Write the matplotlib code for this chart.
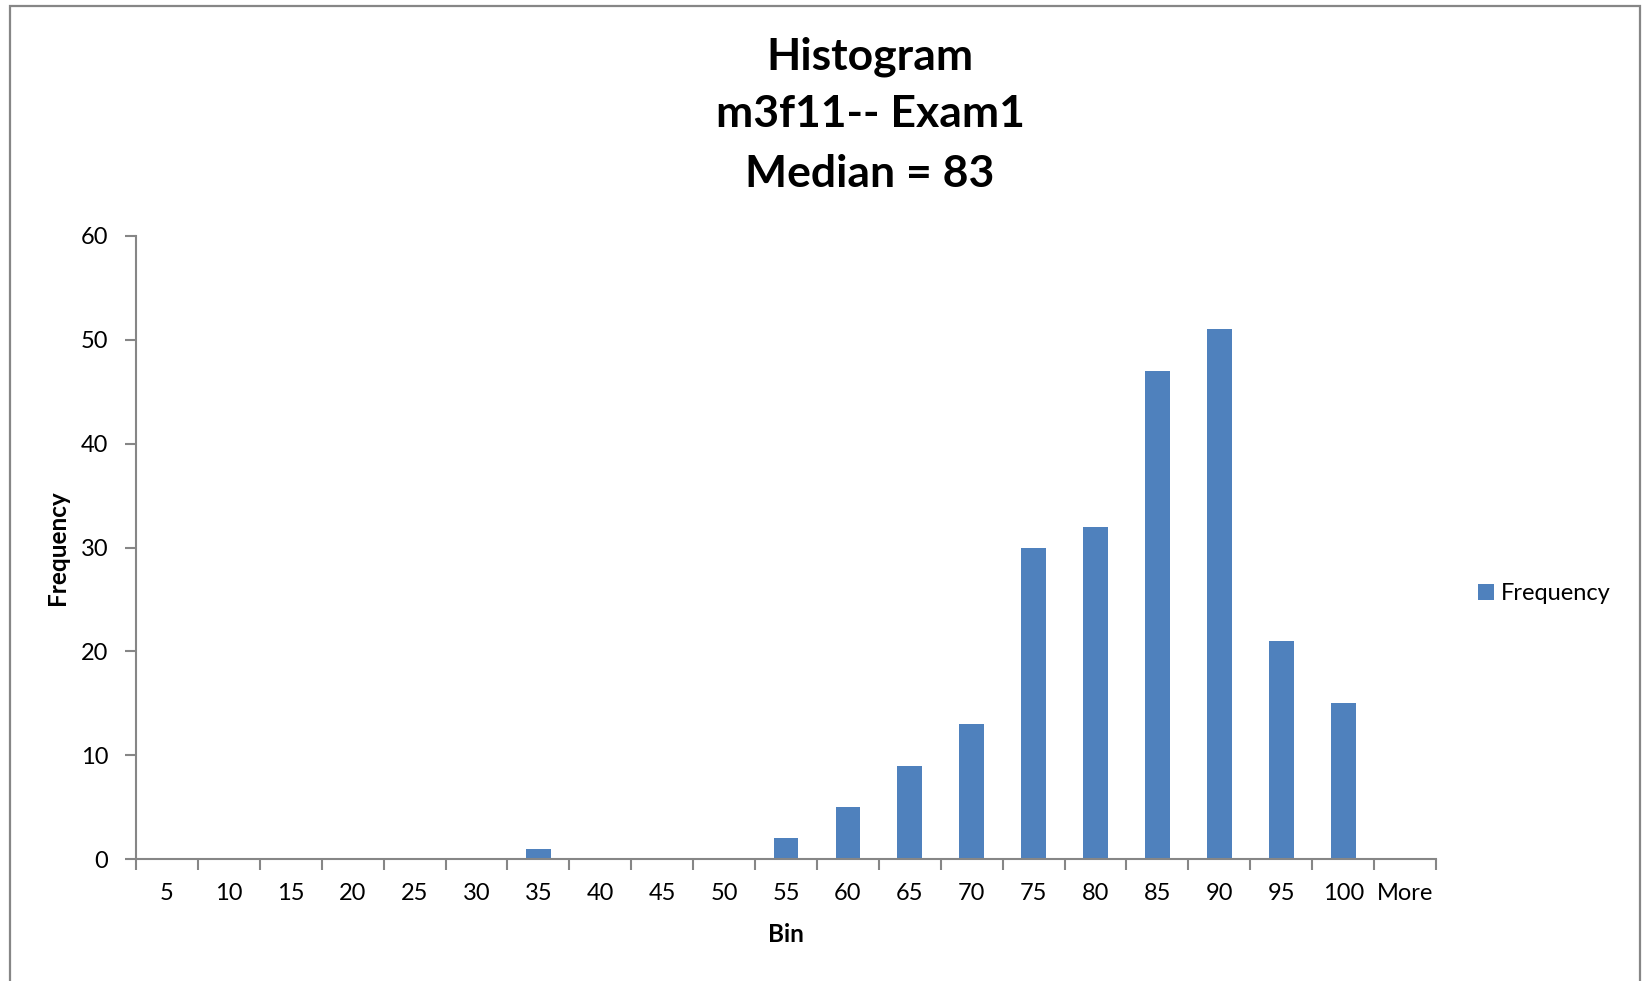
import numpy as np
import matplotlib
matplotlib.use("Agg")
import matplotlib.pyplot as plt
from matplotlib.patches import Rectangle

plt.rcParams['font.family'] = ['Lato', 'DejaVu Sans']

bins = ["5", "10", "15", "20", "25", "30", "35", "40", "45", "50", "55",
        "60", "65", "70", "75", "80", "85", "90", "95", "100", "More"]
frequency = [0, 0, 0, 0, 0, 0, 1, 0, 0, 0, 2,
             5, 9, 13, 30, 32, 47, 51, 21, 15, 0]
title_lines = ["Histogram", "m3f11-- Exam1", "Median = 83"]

W, H = 1643, 981
fig = plt.figure(figsize=(W / 100, H / 100), dpi=100)
ax = fig.add_axes([136 / W, 1 - 859 / H, 1300 / W, 623 / H])

grey = "#868686"
x = np.arange(len(bins))
ax.bar(x, frequency, width=0.40, color="#4F81BD", label="Frequency", zorder=2)

ax.set_xlim(-0.5, len(bins) - 0.5)
ax.set_ylim(0, 60)
ax.set_yticks(np.arange(0, 61, 10))

# labels at the bin centres, tick marks on the bin boundaries
ax.set_xticks(x)
ax.set_xticklabels(bins)
ax.set_xticks(np.arange(len(bins) + 1) - 0.5, minor=True)
ax.tick_params(axis="x", which="major", length=0, pad=17, labelsize=17)
ax.tick_params(axis="x", which="minor", length=8, width=1.5, color=grey)
ax.tick_params(axis="y", length=8, width=1.5, color=grey, pad=12, labelsize=17)

for s in ["top", "right"]:
    ax.spines[s].set_visible(False)
for s in ["left", "bottom"]:
    ax.spines[s].set_color(grey)
    ax.spines[s].set_linewidth(1.5)

ax.set_xlabel("Bin", fontsize=17.5, fontweight="bold", labelpad=14)
ax.set_ylabel("Frequency", fontsize=17.5, fontweight="bold", labelpad=8)

for t, yy in zip(title_lines, [56.5, 114, 174]):
    fig.text(870 / W, 1 - yy / H, t, ha="center", va="center",
             fontsize=32, fontweight="bold")

fig.legend(loc="center left", bbox_to_anchor=(1469 / W, 1 - 594 / H),
           frameon=False, fontsize=17, handlelength=0.65, handleheight=0.68,
           handletextpad=0.3, borderaxespad=0)

# chart border
fig.patches.append(Rectangle((10 / W, -0.02), 1630 / W, 1.02 - 6 / H,
                             transform=fig.transFigure, fill=False,
                             edgecolor=grey, linewidth=1.6))

fig.savefig("out.png", dpi=100, facecolor="white")
